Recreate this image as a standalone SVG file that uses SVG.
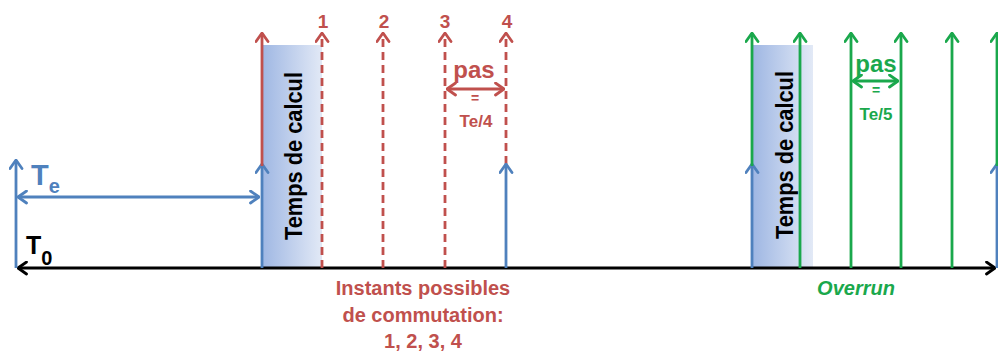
<svg xmlns="http://www.w3.org/2000/svg" width="998" height="356" viewBox="0 0 998 356">
<style>
.t{font-family:"Liberation Sans",Arial,sans-serif;font-weight:bold}
.red{fill:#c0504d}.blue{fill:#4f81bd}.green{fill:#1aa84c}.blk{fill:#000}
.lr{stroke:#c0504d;stroke-width:2.8;fill:none}
.lrd{stroke:#c0504d;stroke-width:2.8;fill:none;stroke-dasharray:8 5}
.lb{stroke:#4f81bd;stroke-width:2.8;fill:none}
.lg{stroke:#1aa84c;stroke-width:2.8;fill:none}
.lk{stroke:#000;stroke-width:3;fill:none}
</style>
<defs>
<linearGradient id="box" x1="0" y1="0" x2="1" y2="0">
<stop offset="0" stop-color="#9fb7e3"/>
<stop offset="1" stop-color="#e2e9f6"/>
</linearGradient>
<marker id="ar" viewBox="0 0 11 15" refX="10" refY="7.5" markerWidth="11" markerHeight="15" markerUnits="userSpaceOnUse" orient="auto-start-reverse"><path d="M1.5,1.5 L10,7.5 L1.5,13.5" fill="none" stroke="#c0504d" stroke-width="2.8" stroke-linecap="round" stroke-linejoin="round"/></marker>
<marker id="ab" viewBox="0 0 11 15" refX="10" refY="7.5" markerWidth="11" markerHeight="15" markerUnits="userSpaceOnUse" orient="auto-start-reverse"><path d="M1.5,1.5 L10,7.5 L1.5,13.5" fill="none" stroke="#4f81bd" stroke-width="2.8" stroke-linecap="round" stroke-linejoin="round"/></marker>
<marker id="ag" viewBox="0 0 11 15" refX="10" refY="7.5" markerWidth="11" markerHeight="15" markerUnits="userSpaceOnUse" orient="auto-start-reverse"><path d="M1.5,1.5 L10,7.5 L1.5,13.5" fill="none" stroke="#1aa84c" stroke-width="2.8" stroke-linecap="round" stroke-linejoin="round"/></marker>
<marker id="ak" viewBox="0 0 11 15" refX="10" refY="7.5" markerWidth="11" markerHeight="15" markerUnits="userSpaceOnUse" orient="auto-start-reverse"><path d="M1.5,1.5 L10,7.5 L1.5,13.5" fill="none" stroke="#000" stroke-width="2.8" stroke-linecap="round" stroke-linejoin="round"/></marker>
</defs>

<g id="box1">
<rect x="262" y="45" width="60" height="223" fill="url(#box)"/>
<text class="t blk" font-size="24" transform="translate(302,240) rotate(-90)" textLength="168" lengthAdjust="spacingAndGlyphs">Temps de calcul</text>
</g>
<g id="box2">
<rect x="753" y="45" width="60" height="223" fill="url(#box)"/>
<text class="t blk" font-size="24" transform="translate(793,239) rotate(-90)" textLength="168" lengthAdjust="spacingAndGlyphs">Temps de calcul</text>
</g>

<g id="connectors">
<line class="lk" x1="18" y1="268" x2="995" y2="268" marker-start="url(#ak)" marker-end="url(#ak)"/>
<line class="lb" x1="16" y1="268" x2="16" y2="160" marker-end="url(#ab)"/>
<line class="lb" x1="18" y1="197" x2="259" y2="197" marker-start="url(#ab)" marker-end="url(#ab)"/>
<line class="lb" x1="262" y1="268" x2="262" y2="164" marker-end="url(#ab)"/>
<line class="lr" x1="262" y1="166" x2="262" y2="33" marker-end="url(#ar)"/>
<line class="lrd" x1="322" y1="268" x2="322" y2="33" marker-end="url(#ar)"/>
<line class="lrd" x1="383" y1="268" x2="383" y2="33" marker-end="url(#ar)"/>
<line class="lrd" x1="445" y1="268" x2="445" y2="33" marker-end="url(#ar)"/>
<line class="lrd" x1="506" y1="164" x2="506" y2="33" marker-end="url(#ar)"/>
<line class="lb" x1="506" y1="268" x2="506" y2="164" marker-end="url(#ab)"/>
<line class="lr" x1="447" y1="89" x2="504" y2="89" marker-start="url(#ar)" marker-end="url(#ar)"/>

<line class="lb" x1="752" y1="268" x2="752" y2="164" marker-end="url(#ab)"/>
<line class="lg" x1="752" y1="166" x2="752" y2="33" marker-end="url(#ag)"/>
<line class="lg" x1="800" y1="268" x2="800" y2="33" marker-end="url(#ag)"/>
<line class="lg" x1="851" y1="268" x2="851" y2="33" marker-end="url(#ag)"/>
<line class="lg" x1="901" y1="268" x2="901" y2="33" marker-end="url(#ag)"/>
<line class="lg" x1="952" y1="268" x2="952" y2="33" marker-end="url(#ag)"/>
<line class="lb" x1="997" y1="268" x2="997" y2="164" marker-end="url(#ab)"/>
<line class="lg" x1="997" y1="166" x2="997" y2="33" marker-end="url(#ag)"/>
<line class="lg" x1="853" y1="81" x2="898" y2="81" marker-start="url(#ag)" marker-end="url(#ag)"/>
</g>

<g id="labels">
<text class="t blue" x="31" y="185" font-size="29">T<tspan font-size="20" dy="8">e</tspan></text>
<text class="t blk" x="26" y="254" font-size="25">T<tspan font-size="20" dy="11">0</tspan></text>
<text class="t red" font-size="19" text-anchor="middle" x="323" y="28">1</text>
<text class="t red" font-size="19" text-anchor="middle" x="384" y="28">2</text>
<text class="t red" font-size="19" text-anchor="middle" x="445" y="28">3</text>
<text class="t red" font-size="19" text-anchor="middle" x="507" y="28">4</text>
<text class="t red" font-size="24" text-anchor="middle" x="474" y="78">pas</text>
<text class="t red" font-size="14" text-anchor="middle" x="475" y="103">=</text>
<text class="t red" font-size="17" text-anchor="middle" x="476" y="127">Te/4</text>
<text class="t green" font-size="24" text-anchor="middle" x="876" y="72">pas</text>
<text class="t green" font-size="14" text-anchor="middle" x="876" y="95">=</text>
<text class="t green" font-size="17" text-anchor="middle" x="876" y="120">Te/5</text>
<text class="t red" font-size="20" text-anchor="middle" x="423" y="295">Instants possibles</text>
<text class="t red" font-size="20" text-anchor="middle" x="423" y="322">de commutation:</text>
<text class="t red" font-size="20" text-anchor="middle" x="423" y="348">1, 2, 3, 4</text>
<text class="t green" font-size="20" font-style="italic" text-anchor="middle" x="856" y="295">Overrun</text>
</g>
</svg>
